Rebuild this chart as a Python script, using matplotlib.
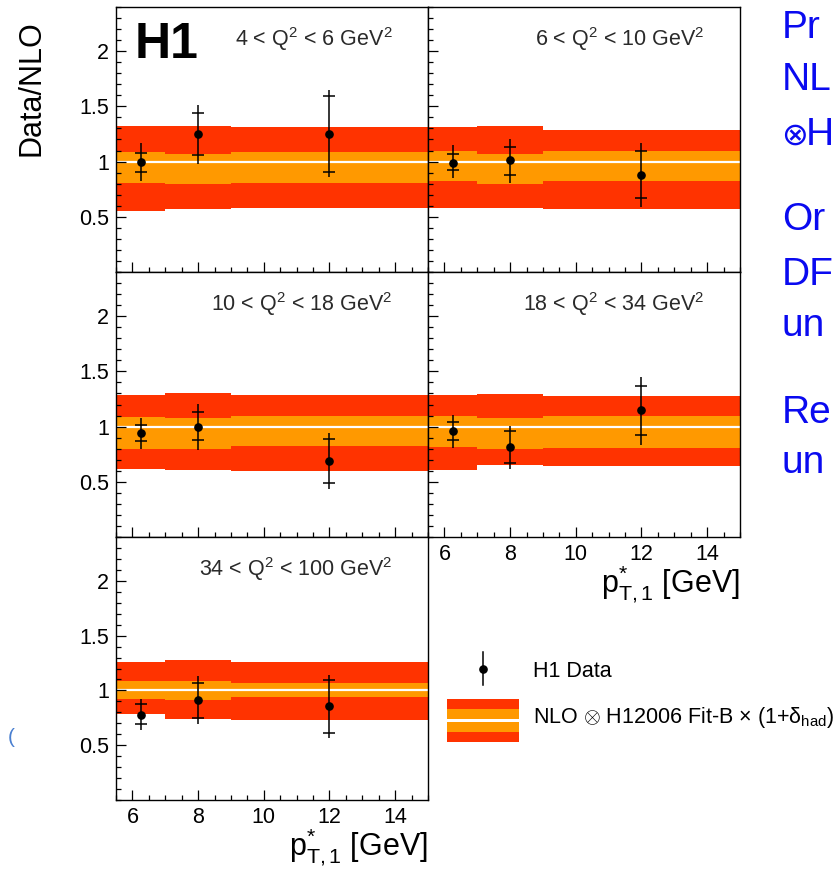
import matplotlib
matplotlib.use("Agg")
import matplotlib.pyplot as plt
import numpy as np
from matplotlib.ticker import MultipleLocator, FixedLocator
from matplotlib.legend_handler import HandlerBase
from matplotlib.lines import Line2D
from matplotlib.patches import Rectangle

plt.rcParams['font.family'] = ['Liberation Sans', 'DejaVu Sans']
plt.rcParams['mathtext.fontset'] = 'custom'
plt.rcParams['mathtext.rm'] = 'Liberation Sans'
plt.rcParams['mathtext.it'] = 'Liberation Sans:italic'
plt.rcParams['mathtext.bf'] = 'Liberation Sans:bold'

# ---------------- data ----------------
q2_labels = [r'4 < Q$^{2}$ < 6 GeV$^{2}$',
             r'6 < Q$^{2}$ < 10 GeV$^{2}$',
             r'10 < Q$^{2}$ < 18 GeV$^{2}$',
             r'18 < Q$^{2}$ < 34 GeV$^{2}$',
             r'34 < Q$^{2}$ < 100 GeV$^{2}$']

bin_edges = [5.5, 7.0, 9.0, 15.0]
pt_x = [6.25, 8.0, 12.0]

# NLO band (ratio), per panel, per bin
outer_hi = [[1.32, 1.32, 1.31],
            [1.31, 1.32, 1.29],
            [1.29, 1.30, 1.29],
            [1.286, 1.292, 1.277],
            [1.263, 1.281, 1.263]]
inner_hi = [[1.09, 1.07, 1.09],
            [1.10, 1.07, 1.10],
            [1.09, 1.075, 1.096],
            [1.096, 1.075, 1.096],
            [1.082, 1.082, 1.069]]
inner_lo = [[0.81, 0.80, 0.81],
            [0.82, 0.80, 0.82],
            [0.80, 0.795, 0.82],
            [0.819, 0.795, 0.807],
            [0.924, 0.912, 0.94]]
outer_lo = [[0.55, 0.57, 0.58],
            [0.58, 0.58, 0.57],
            [0.62, 0.61, 0.60],
            [0.608, 0.654, 0.642],
            [0.782, 0.743, 0.731]]

# H1 data / NLO
data_y = [[1.00, 1.25, 1.25],
          [0.99, 1.01, 0.88],
          [0.94, 1.00, 0.69],
          [0.961, 0.813, 1.151],
          [0.779, 0.912, 0.855]]
stat_hi = [[1.08, 1.44, 1.59],
           [1.07, 1.135, 1.095],
           [1.01, 1.13, 0.886],
           [1.045, 0.961, 1.37],
           [0.873, 1.066, 1.091]]
stat_lo = [[0.91, 1.06, 0.905],
           [0.92, 0.875, 0.667],
           [0.873, 0.88, 0.488],
           [0.877, 0.669, 0.925],
           [0.689, 0.752, 0.613]]
tot_hi = [[1.17, 1.51, 1.65],
          [1.15, 1.205, 1.17],
          [1.08, 1.205, 0.94],
          [1.105, 1.009, 1.452],
          [0.921, 1.13, 1.139]]
tot_lo = [[0.82, 0.98, 0.86],
          [0.85, 0.81, 0.59],
          [0.80, 0.79, 0.434],
          [0.807, 0.617, 0.834],
          [0.637, 0.698, 0.562]]

x_ticks = [6, 8, 10, 12, 14]
y_ticks = [0.5, 1, 1.5, 2]
y_ticklabels = ['0.5', '1', '1.5', '2']

# visible part of the slide text to the right of the figure
side_text = [('Pr', 38), ('NL', 90), ('H', 145),
             ('Or', 230), ('DF', 285), ('un', 336),
             ('Re', 423), ('un', 473)]
side_x = [782, 782, 806, 782, 782, 782, 782, 782]

# ---------------- style ----------------
RED = '#ff3300'
ORANGE = '#ff9900'
BLUE = '#0a0af0'
W, H, DPI = 836, 871, 100

def fx(px):
    return px / W

def fy(py):
    return 1 - py / H

fig = plt.figure(figsize=(W / DPI, H / DPI), dpi=DPI)
fig.patch.set_facecolor('white')

col_left = [116, 428]
col_w = 312
row_top = [7, 272, 537]
row_h = [265, 265, 263]
layout = [(0, 0), (1, 0), (0, 1), (1, 1), (0, 2)]
xlabel_panels = {3, 4}

TICK_FS = 15.5
for i, (c, r) in enumerate(layout):
    left, top, h = col_left[c], row_top[r], row_h[r]
    ax = fig.add_axes([fx(left), fy(top + h), col_w / W, h / H])
    ax.stairs(outer_hi[i], bin_edges, baseline=outer_lo[i], fill=True,
              color=RED, lw=0, zorder=1)
    ax.stairs(inner_hi[i], bin_edges, baseline=inner_lo[i], fill=True,
              color=ORANGE, lw=0, zorder=1.1)
    ax.axhline(1.0, color='white', lw=1.6, zorder=1.5)
    y = np.array(data_y[i])
    ax.errorbar(pt_x, y, yerr=[y - np.array(tot_lo[i]), np.array(tot_hi[i]) - y],
                fmt='o', color='black', ms=5.2, elinewidth=1.1, capsize=0, zorder=3)
    ax.errorbar(pt_x, y, yerr=[y - np.array(stat_lo[i]), np.array(stat_hi[i]) - y],
                fmt='none', ecolor='black', elinewidth=0, capsize=4.3,
                capthick=1.1, zorder=3)
    ax.set_xlim(5.5, 15)
    ax.set_ylim(0, 2.4)
    ax.xaxis.set_major_locator(FixedLocator(x_ticks))
    ax.xaxis.set_minor_locator(MultipleLocator(0.5))
    ax.yaxis.set_major_locator(FixedLocator(y_ticks))
    ax.yaxis.set_minor_locator(MultipleLocator(0.1))
    ax.tick_params(which='both', direction='in', top=False, right=False,
                   width=0.9, colors='black', labelsize=TICK_FS)
    ax.tick_params(axis='y', which='major', length=7.5, pad=5)
    ax.tick_params(axis='y', which='minor', length=3.8)
    ax.tick_params(axis='x', which='major', length=7.0, pad=5)
    ax.tick_params(axis='x', which='minor', length=3.6)
    if c == 0:
        ax.set_yticklabels(y_ticklabels)
    else:
        ax.tick_params(axis='y', labelleft=False)
    if i in xlabel_panels:
        ax.set_xticklabels([str(v) for v in x_ticks])
    else:
        ax.tick_params(axis='x', labelbottom=False)
    for s in ax.spines.values():
        s.set_linewidth(1.0)
        s.set_color('black')
    ax.text(1 - 35 / col_w, 1 - 39 / h, q2_labels[i], transform=ax.transAxes,
            ha='right', va='baseline', fontsize=15.5, color='#2a2a2a')

# axis titles
xlab = r'$\mathrm{p^{*}_{T,1}}$ [GeV]'
fig.text(fx(428), fy(855), xlab, ha='right', va='baseline', fontsize=22)
fig.text(fx(740), fy(592), xlab, ha='right', va='baseline', fontsize=22)
fig.text(fx(32), fy(20), 'Data/NLO', rotation=90, ha='center', va='top',
         fontsize=22)
fig.text(fx(135), fy(58), 'H1', ha='left', va='baseline', fontsize=36,
         fontweight='bold')

# side text (slide text beside the figure)
for (t, base), sx in zip(side_text, side_x):
    fig.text(fx(sx), fy(base), t, ha='left', va='baseline', fontsize=28,
             color=BLUE)
fig.text(fx(781), fy(145), '\u2297', ha='left', va='baseline', fontsize=23,
         color=BLUE, family=['DejaVu Sans'])
fig.text(fx(8), fy(737), '(', ha='left', va='center', fontsize=15,
         color='#4a7fd0')

# ---------------- legend ----------------
class DataKey:
    pass

class BandKey:
    pass

class DataHandler(HandlerBase):
    def create_artists(self, legend, orig_handle, xdescent, ydescent,
                       width, height, fontsize, trans):
        cx = width / 2 - xdescent
        cy = 5.8
        ln = Line2D([cx, cx], [cy - 11.9, cy + 11.9], color='black', lw=1.1,
                    transform=trans)
        dot = Line2D([cx], [cy], marker='o', ms=5.2, color='black', ls='none',
                     transform=trans)
        return [ln, dot]

class BandHandler(HandlerBase):
    def create_artists(self, legend, orig_handle, xdescent, ydescent,
                       width, height, fontsize, trans):
        x0 = -xdescent
        bh = 31.0
        cy = 1.8
        b0 = cy - bh / 2
        red = Rectangle((x0, b0), width, bh, facecolor=RED, lw=0,
                        transform=trans)
        org = Rectangle((x0, b0 + 0.235 * bh), width, 0.53 * bh,
                        facecolor=ORANGE, lw=0, transform=trans)
        wht = Rectangle((x0, cy - 0.04 * bh), width, 0.08 * bh,
                        facecolor='white', lw=0, transform=trans)
        return [red, org, wht]

LEG_FS = 15.5
hh = 2.0
descent = 0.35 * LEG_FS * (hh - 0.7)
above = LEG_FS * hh - 2 * descent
row_h_pt = LEG_FS * hh - descent
top_px = 677 - above * DPI / 72
pitch_pt = (723 - 677) * 72 / DPI
fig.legend(handles=[DataKey(), BandKey()],
           labels=['H1 Data',
                   'NLO $\\otimes$ H12006 Fit-B \u00d7 (1+\u03b4$_{\\mathrm{had}}$)'],
           handler_map={DataKey: DataHandler(), BandKey: BandHandler()},
           loc='upper left', bbox_to_anchor=(fx(447), fy(top_px)),
           bbox_transform=fig.transFigure, frameon=False, fontsize=LEG_FS,
           handlelength=72 * 72 / DPI / LEG_FS, handleheight=hh,
           handletextpad=14 * 72 / DPI / LEG_FS,
           labelspacing=(pitch_pt - row_h_pt) / LEG_FS,
           borderpad=0, borderaxespad=0)

fig.savefig('out.png', dpi=DPI)
